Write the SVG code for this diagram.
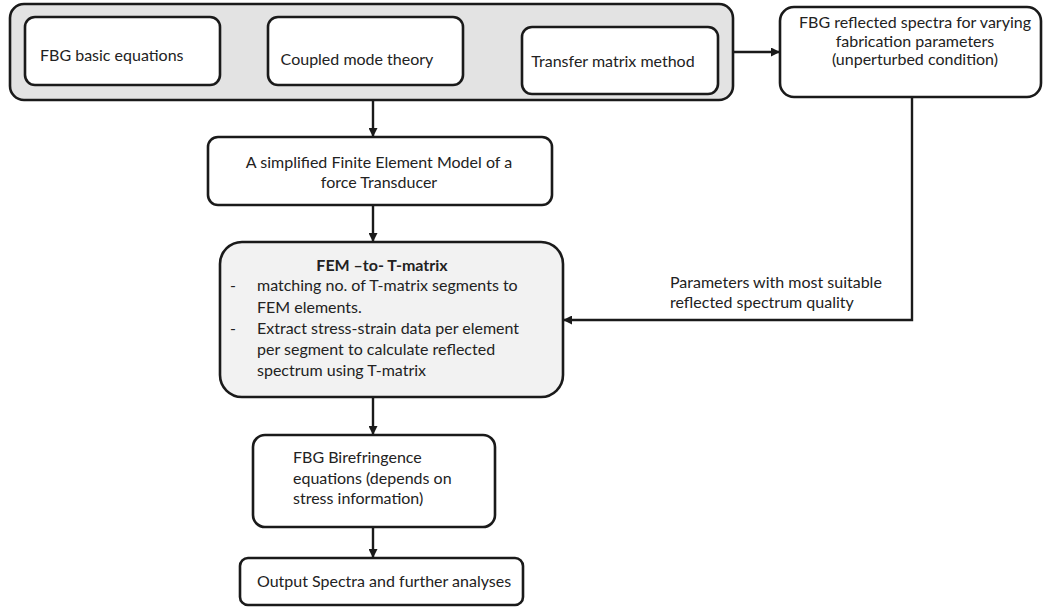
<svg xmlns="http://www.w3.org/2000/svg" width="1057" height="607" viewBox="0 0 1057 607">
<style>
.box{fill:#fff;stroke:#1a1a1a;stroke-width:2.6}
.grp{fill:#e3e3e3;stroke:#1a1a1a;stroke-width:2.6}
.fem{fill:#f2f2f2;stroke:#1a1a1a;stroke-width:2.6}
text{font-family:Lato,"Liberation Sans",sans-serif;font-size:16px;fill:#222}
.c{text-anchor:middle}
.b{font-weight:bold}
.ln{fill:none;stroke:#1a1a1a;stroke-width:2.4}
</style>
<defs>
<marker id="ah" viewBox="0 0 10 10" refX="10" refY="5" markerWidth="9" markerHeight="9" orient="auto" markerUnits="userSpaceOnUse">
<path d="M0,0 L10,5 L0,10 z" fill="#1a1a1a"/>
</marker>
</defs>
<rect width="1057" height="607" fill="#fff"/>
<g id="theory-group">
<rect class="grp" x="10" y="4" width="723" height="96" rx="14"/>
</g>
<g id="fbg-basic">
<rect class="box" x="25" y="17" width="195" height="68" rx="10"/>
<text x="40" y="61">FBG basic equations</text>
</g>
<g id="coupled-mode">
<rect class="box" x="268" y="17" width="195" height="68" rx="10"/>
<text x="357" y="65" class="c">Coupled mode theory</text>
</g>
<g id="transfer-matrix">
<rect class="box" x="522" y="27" width="196" height="67" rx="10"/>
<text x="613" y="67" class="c">Transfer matrix method</text>
</g>
<g id="reflected-spectra">
<rect class="box" x="780" y="7" width="261" height="90" rx="14"/>
<text x="915" y="28" class="c">FBG reflected spectra for varying</text>
<text x="915" y="47" class="c">fabrication parameters</text>
<text x="915" y="65" class="c">(unperturbed condition)</text>
</g>
<g id="fe-model">
<rect class="box" x="208" y="137" width="344" height="68" rx="10"/>
<text x="379" y="168" class="c">A simplified Finite Element Model of a</text>
<text x="379" y="188" class="c">force Transducer</text>
</g>
<g id="fem-to-tmatrix">
<rect class="fem" x="220" y="242" width="343" height="155" rx="22"/>
<text x="382" y="271" class="c b">FEM –to- T-matrix</text>
<text x="230" y="291">-</text>
<text x="257" y="291">matching no. of T-matrix segments to</text>
<text x="257" y="313">FEM elements.</text>
<text x="230" y="334">-</text>
<text x="257" y="334">Extract stress-strain data per element</text>
<text x="257" y="355">per segment to calculate reflected</text>
<text x="257" y="376">spectrum using T-matrix</text>
</g>
<g id="birefringence">
<rect class="box" x="253" y="435" width="242" height="92" rx="12"/>
<text x="293" y="463">FBG Birefringence</text>
<text x="293" y="484">equations (depends on</text>
<text x="293" y="504">stress information)</text>
</g>
<g id="output">
<rect class="box" x="240" y="558" width="283" height="47" rx="8"/>
<text x="257" y="587">Output Spectra and further analyses</text>
</g>
<g id="connectors">
<path class="ln" d="M733,52 L780,52" marker-end="url(#ah)"/>
<path class="ln" d="M373,100 L373,137" marker-end="url(#ah)"/>
<path class="ln" d="M373,205 L373,242" marker-end="url(#ah)"/>
<path class="ln" d="M912,97 L912,320 L563,320" marker-end="url(#ah)"/>
<path class="ln" d="M373,397 L373,435" marker-end="url(#ah)"/>
<path class="ln" d="M373,527 L373,558" marker-end="url(#ah)"/>
<text x="670" y="288">Parameters with most suitable</text>
<text x="670" y="308">reflected spectrum quality</text>
</g>
</svg>
